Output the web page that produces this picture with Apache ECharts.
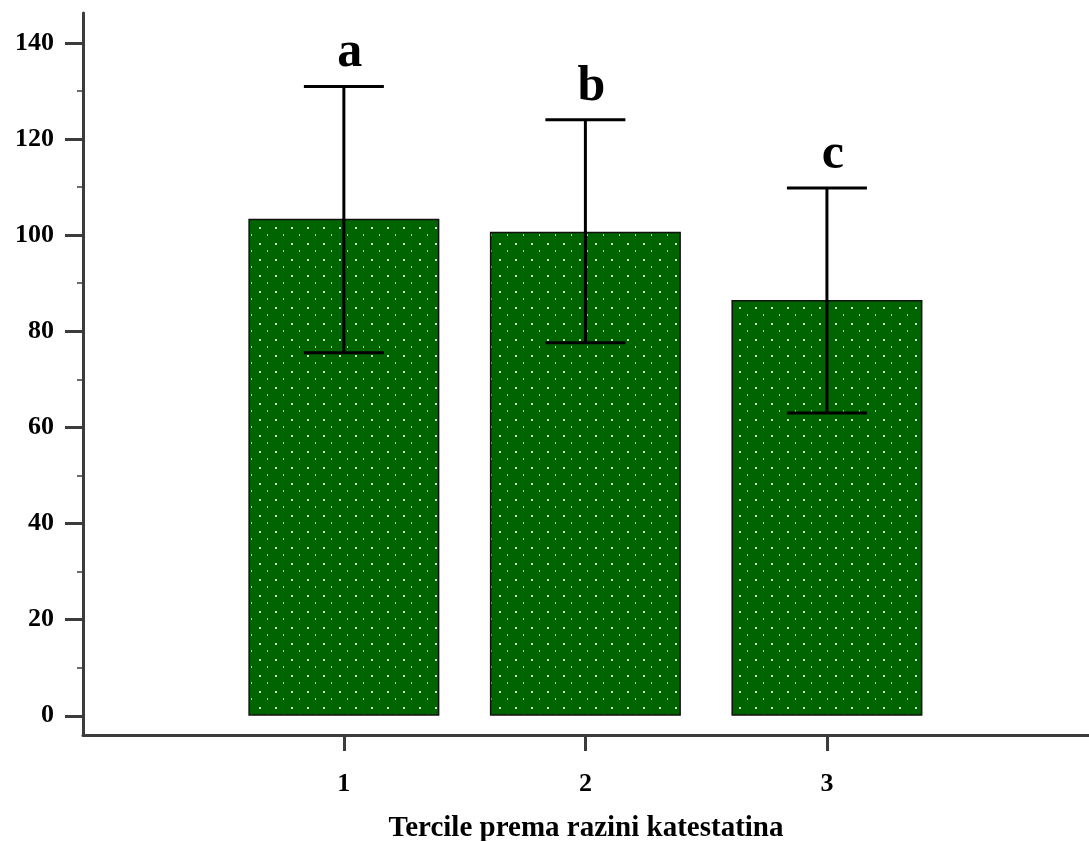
<!DOCTYPE html>
<html>
<head>
<meta charset="utf-8">
<script src="https://cdn.jsdelivr.net/npm/echarts@6/dist/echarts.min.js"></script>
<style>
  html, body { margin: 0; padding: 0; background: #fff; }
  #chart { width: 1089px; height: 841px; }
</style>
</head>
<body>
<div id="chart"></div>
<script>
// data
var categories = [1, 2, 3];
var means = [103.4, 100.7, 86.5];
var upper = [130.9, 124.0, 109.8];
var lower = [75.5, 77.6, 63.0];
var letters = ['a', 'b', 'c'];
var yTicks = [0, 20, 40, 60, 80, 100, 120, 140];
var yMinor = [10, 30, 50, 70, 90, 110, 130];

var font = '"Liberation Serif", "Times New Roman", serif';
var axisColor = '#3c3c3c';

// green fill with white dots
function dotPattern() {
    var c = document.createElement('canvas');
    c.width = 16; c.height = 16;
    var g = c.getContext('2d');
    g.fillStyle = '#006400';
    g.fillRect(0, 0, 16, 16);
    g.fillStyle = '#c8dcc8';
    g.fillRect(3, 3, 2, 2);
    g.fillStyle = '#a8c8a8';
    g.fillRect(11, 10, 1, 2);
    return c;
}

var barData = categories.map(function (c, i) { return [c, means[i]]; });
var errData = categories.map(function (c, i) { return [c, lower[i], upper[i], letters[i]]; });

var myChart = echarts.init(document.getElementById('chart'));

var option = {
    animation: false,
    backgroundColor: '#fff',
    grid: { left: 83, right: 0, top: 13, bottom: 106, containLabel: false, outerBoundsMode: 'none' },
    xAxis: {
        type: 'value',
        min: -0.08,
        max: 4.085,
        name: 'Tercile prema razini katestatina',
        nameLocation: 'middle',
        nameGap: 79,
        nameTextStyle: { fontFamily: font, fontWeight: 'bold', fontSize: 29, color: '#000' },
        splitLine: { show: false },
        axisLine: { onZero: false, lineStyle: { color: axisColor, width: 3 } },
        axisTick: { customValues: categories, length: 16, lineStyle: { color: axisColor, width: 3 } },
        axisLabel: {
            customValues: categories, margin: 36,
            fontFamily: font, fontWeight: 'bold', fontSize: 26, color: '#000'
        }
    },
    yAxis: [{
        type: 'value',
        min: -4,
        max: 146.2,
        splitLine: { show: false },
        axisLine: { show: true, onZero: false, lineStyle: { color: axisColor, width: 3 } },
        axisTick: { customValues: yTicks, length: 18, lineStyle: { color: axisColor, width: 3 } },
        axisLabel: {
            customValues: yTicks, margin: 29,
            fontFamily: font, fontWeight: 'bold', fontSize: 26, color: '#000'
        }
    }, {
        type: 'value',
        position: 'left',
        min: -4,
        max: 146.2,
        splitLine: { show: false },
        axisLine: { show: false, onZero: false },
        axisTick: { show: true, customValues: yMinor, length: 6, lineStyle: { color: axisColor, width: 1.5 } },
        axisLabel: { show: false }
    }],
    series: [{
        type: 'bar',
        data: barData,
        barWidth: 191,
        itemStyle: {
            color: { image: dotPattern(), repeat: 'repeat' },
            borderColor: '#111',
            borderWidth: 1.5
        }
    }, {
        type: 'custom',
        data: errData,
        z: 10,
        renderItem: function (params, api) {
            var x = api.value(0);
            var lo = api.coord([x, api.value(1)]);
            var hi = api.coord([x, api.value(2)]);
            var half = 40;
            var st = { stroke: '#000', lineWidth: 3 };
            return {
                type: 'group',
                children: [
                    { type: 'line', shape: { x1: hi[0], y1: hi[1], x2: lo[0], y2: lo[1] }, style: st },
                    { type: 'line', shape: { x1: hi[0] - half, y1: hi[1], x2: hi[0] + half, y2: hi[1] }, style: st },
                    { type: 'line', shape: { x1: lo[0] - half, y1: lo[1], x2: lo[0] + half, y2: lo[1] }, style: st },
                    {
                        type: 'text',
                        style: {
                            x: hi[0] + 6, y: hi[1] - 8,
                            text: api.value(3),
                            fontFamily: font, fontWeight: 'bold', fontSize: 50,
                            fill: '#000', align: 'center', verticalAlign: 'bottom'
                        }
                    }
                ]
            };
        }
    }]
};

myChart.setOption(option);
</script>
</body>
</html>
